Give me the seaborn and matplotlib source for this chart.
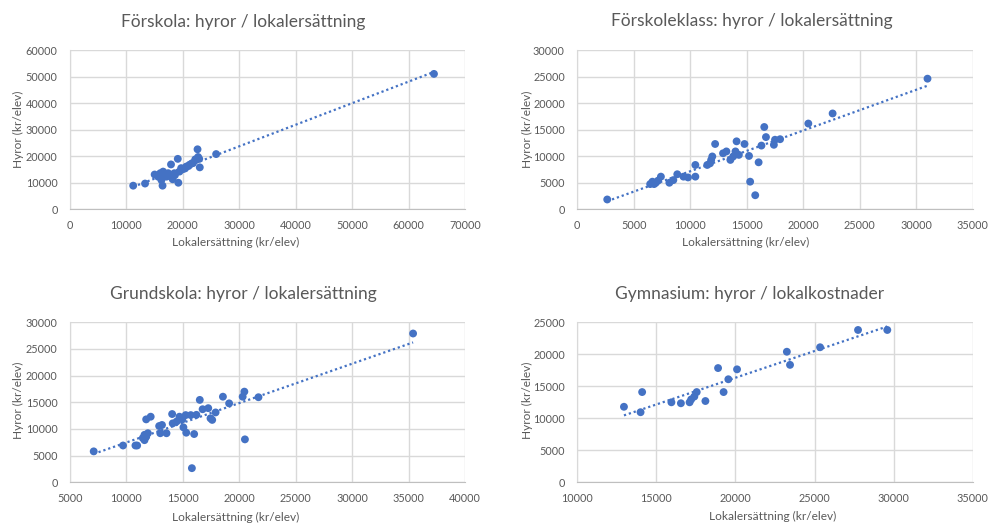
import numpy as np
import pandas as pd
import matplotlib
matplotlib.use("Agg")
import matplotlib.pyplot as plt
import seaborn as sns

# Förskola: lokalersättning (x) and hyror (y), kr/elev
forskola_x = [11200, 13300, 15000, 15600, 16000, 16200, 16400, 16500, 16800, 17100,
              17400, 17900, 17900, 18200, 18500, 18600, 19100, 19200, 19400, 19700,
              20000, 20400, 20600, 21000, 21200, 21600, 21800, 22200, 22400, 22600,
              22700, 22900, 23000, 25900, 64500]
forskola_y = [8900, 9700, 13100, 12300, 13600, 11000, 8900, 14200, 12900, 12300,
              13600, 16900, 12300, 11300, 13600, 12900, 19000, 10000, 14200, 15500,
              15100, 15400, 16100, 16300, 16800, 17300, 17400, 18800, 18700, 22600,
              19700, 19000, 15800, 20800, 51000]

# Förskoleklass
fklass_x = [2650, 6450, 6650, 6800, 6950, 7150, 7400, 8150, 8500, 8850,
            9400, 9800, 10450, 10450, 11500, 11750, 11950, 11850, 12200, 12900,
            13200, 13550, 13800, 14000, 14100, 14300, 14800, 15200, 15300, 15750,
            16050, 16300, 16550, 16700, 17400, 17500, 17950, 20450, 22600, 31000]
fklass_y = [1850, 4750, 5200, 4750, 5000, 5400, 6150, 5000, 5500, 6600,
            6150, 6000, 8350, 6150, 8350, 8650, 9950, 9300, 12300, 10550,
            10900, 9300, 9950, 10900, 12800, 10250, 12300, 10050, 5200, 2650,
            8850, 12000, 15500, 13600, 12150, 13100, 13200, 16150, 18050, 24600]

# Grundskola
grund_x = [7100, 9700, 10800, 10950, 11450, 11600, 11750, 11600, 11900, 11700,
           11750, 12150, 12900, 13150, 13000, 13550, 14050, 14100, 14450, 14700,
           14950, 15250, 15050, 15300, 16000, 15800, 15700, 16200, 16500, 16750,
           17250, 17450, 17600, 17900, 18550, 19100, 20300, 20450, 20500, 21700,
           35400]
grund_y = [5800, 6900, 6900, 6900, 8300, 7900, 8550, 8900, 9200, 8450,
           11800, 12300, 10550, 10750, 9200, 9200, 12800, 11050, 11400, 12300,
           11800, 12600, 10300, 9300, 9050, 2650, 12600, 12650, 15450, 13700,
           13900, 12000, 11700, 13100, 16050, 14800, 16050, 17000, 8050, 15950,
           27900]

# Gymnasium
gymn_x = [12950, 14100, 14000, 15950, 16550, 17100, 17200, 17400, 17550, 18100,
          18900, 19250, 19550, 20100, 23250, 23450, 25350, 27750, 29600]
gymn_y = [11800, 14100, 10950, 12500, 12350, 12500, 12950, 13400, 14100, 12700,
          17850, 14100, 16100, 17650, 20400, 18350, 21100, 23800, 23800]

titles = ["Förskola: hyror / lokalersättning",
          "Förskoleklass: hyror / lokalersättning",
          "Grundskola: hyror / lokalersättning",
          "Gymnasium: hyror / lokalkostnader"]
x_label = "Lokalersättning (kr/elev)"
y_label = "Hyror (kr/elev)"

sns.set_style("white")
plt.rcParams["font.family"] = ["Lato", "DejaVu Sans"]

W, H = 988, 525
fig = plt.figure(figsize=(W / 100, H / 100), dpi=100)

BLUE = "#4472C4"
TEXT = "#595959"
GRID = "#D9D9D9"


def px_axes(left, top, right, bottom):
    return fig.add_axes([left / W, 1 - bottom / H, (right - left) / W, (bottom - top) / H])


panels = [
    dict(x=forskola_x, y=forskola_y, box=(70, 50, 465, 209.3),
         xlim=(0, 70000), xstep=10000, ylim=(0, 60000), ystep=10000,
         title_c=(243, 22), xlab_c=(236, 242), ylab_c=(18, 129)),
    dict(x=fklass_x, y=fklass_y, box=(577.3, 50, 972.7, 209.3),
         xlim=(0, 35000), xstep=5000, ylim=(0, 30000), ystep=5000,
         title_c=(752, 21), xlab_c=(746, 242), ylab_c=(527, 129)),
    dict(x=grund_x, y=grund_y, box=(70, 322.3, 465, 482.3),
         xlim=(5000, 40000), xstep=5000, ylim=(0, 30000), ystep=5000,
         title_c=(243, 294), xlab_c=(236, 517), ylab_c=(18, 400)),
    dict(x=gymn_x, y=gymn_y, box=(577.3, 322.3, 972.7, 482.3),
         xlim=(10000, 35000), xstep=5000, ylim=(0, 25000), ystep=5000,
         title_c=(750, 294), xlab_c=(773, 516), ylab_c=(527, 400)),
]

for p, title in zip(panels, titles):
    left, top, right, bottom = p["box"]
    ax = px_axes(left, top, right, bottom)
    df = pd.DataFrame({"x": p["x"], "y": p["y"]})
    sns.regplot(data=df, x="x", y="y", ax=ax, ci=None, color=BLUE,
                scatter_kws=dict(s=32, alpha=1, edgecolor="none", zorder=3),
                line_kws=dict(lw=1.6, dashes=(1, 1.3), zorder=2))
    ax.set_xlim(*p["xlim"])
    ax.set_ylim(*p["ylim"])
    ax.set_xticks(np.arange(p["xlim"][0], p["xlim"][1] + 1, p["xstep"]))
    ax.set_yticks(np.arange(p["ylim"][0], p["ylim"][1] + 1, p["ystep"]))
    ax.grid(True, color=GRID, lw=1)
    ax.set_axisbelow(True)
    for side in ("top", "right"):
        ax.spines[side].set_visible(False)
    ax.spines["left"].set_color(GRID)
    ax.spines["bottom"].set_color("#BFBFBF")
    ax.tick_params(axis="both", length=0, labelsize=7.8, colors=TEXT)
    ax.tick_params(axis="x", pad=8)
    ax.tick_params(axis="y", pad=9)

    bw, bh = right - left, bottom - top
    ax.set_xlabel(x_label, fontsize=8.6, color=TEXT, va="center")
    ax.xaxis.set_label_coords((p["xlab_c"][0] - left) / bw, (bottom - p["xlab_c"][1]) / bh)
    ax.set_ylabel(y_label, fontsize=8.6, color=TEXT, va="center")
    ax.yaxis.set_label_coords((p["ylab_c"][0] - left) / bw, (bottom - p["ylab_c"][1]) / bh)
    ax.set_title(title, fontsize=12.5, color=TEXT, va="center", pad=0,
                 x=(p["title_c"][0] - left) / bw, y=(bottom - p["title_c"][1]) / bh)

fig.savefig("out.png", dpi=100, facecolor="white")
